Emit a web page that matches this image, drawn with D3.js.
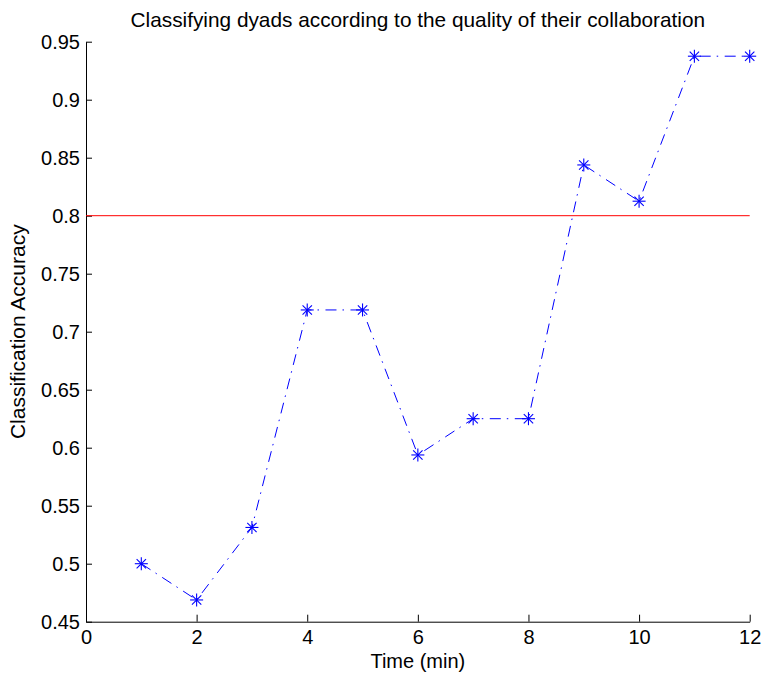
<!DOCTYPE html>
<html>
<head>
<meta charset="utf-8">
<script src="https://cdn.jsdelivr.net/npm/d3@7"></script>
<style>
  body { margin: 0; background: #fff; }
  svg { display: block; font-family: "Liberation Sans", Arial, Helvetica, sans-serif; }
  .axis path, .axis line { stroke: #000; stroke-width: 1; }
  .axis text { font-size: 20px; fill: #000; }
</style>
</head>
<body>
<div id="chart"></div>
<script>
// Chart values
var times = [1, 2, 3, 4, 5, 6, 7, 8, 9, 10, 11, 12];
var accuracy = [0.5, 0.46875, 0.53125, 0.71875, 0.71875, 0.59375, 0.625, 0.625, 0.84375, 0.8125, 0.9375, 0.9375];
var threshold = 0.8;
var xTicks = [0, 2, 4, 6, 8, 10, 12];
var yTicks = [0.45, 0.5, 0.55, 0.6, 0.65, 0.7, 0.75, 0.8, 0.85, 0.9, 0.95];

var svgWidth = 763;
var svgHeight = 673;

var margin = { top: 41.7, bottom: 51.3, left: 86, right: 13.3 };
var width = svgWidth - margin.left - margin.right;
var height = svgHeight - margin.top - margin.bottom;

var svg = d3.select("#chart")
  .append("svg")
  .attr("width", svgWidth)
  .attr("height", svgHeight);

var chartGroup = svg.append("g")
  .attr("transform", `translate(${margin.left}, ${margin.top})`);

var xScale = d3.scaleLinear().domain([0, 12]).range([0, width]);
var yScale = d3.scaleLinear().domain([0.45, 0.95]).range([height, 0]);

// axes, ticks pointing inward like matlab
var bottomAxis = d3.axisBottom(xScale)
  .tickValues(xTicks)
  .tickSizeInner(-7)
  .tickSizeOuter(0)
  .tickPadding(8)
  .tickFormat(d3.format("d"));

var leftAxis = d3.axisLeft(yScale)
  .tickValues(yTicks)
  .tickSizeInner(-6)
  .tickSizeOuter(0)
  .tickPadding(6)
  .tickFormat(d => String(+d.toFixed(2)));

chartGroup.append("g")
  .attr("class", "axis")
  .attr("transform", `translate(0, ${height})`)
  .call(bottomAxis);

chartGroup.append("g")
  .attr("class", "axis")
  .call(leftAxis);

chartGroup.selectAll(".axis text").attr("font-family", null);

// threshold line
chartGroup.append("line")
  .attr("x1", xScale(0))
  .attr("x2", xScale(12))
  .attr("y1", yScale(threshold))
  .attr("y2", yScale(threshold))
  .attr("stroke", "#ff0000")
  .attr("stroke-width", 1);

// dash-dot line
var line = d3.line()
  .x((d, i) => xScale(times[i]))
  .y(d => yScale(d));

chartGroup.append("path")
  .datum(accuracy)
  .attr("d", line)
  .attr("fill", "none")
  .attr("stroke", "#0000ff")
  .attr("stroke-width", 1)
  .attr("stroke-dasharray", "11,6,1.5,6.5");

// asterisk markers
var r = 6.5;
var markers = chartGroup.selectAll(".marker")
  .data(accuracy)
  .enter()
  .append("g")
  .attr("class", "marker")
  .attr("transform", (d, i) => `translate(${xScale(times[i])}, ${yScale(d)})`);

[[-r, 0, r, 0], [0, -r, 0, r], [-r * 0.72, -r * 0.72, r * 0.72, r * 0.72], [-r * 0.72, r * 0.72, r * 0.72, -r * 0.72]]
  .forEach(function(s) {
    markers.append("line")
      .attr("x1", s[0]).attr("y1", s[1])
      .attr("x2", s[2]).attr("y2", s[3])
      .attr("stroke", "#0000ff")
      .attr("stroke-width", 1.1);
  });

// labels
svg.append("text")
  .attr("x", margin.left + width / 2)
  .attr("y", 27)
  .attr("text-anchor", "middle")
  .attr("font-size", "20.8px")
  .text("Classifying dyads according to the quality of their collaboration");

svg.append("text")
  .attr("x", margin.left + width / 2)
  .attr("y", 668)
  .attr("text-anchor", "middle")
  .attr("font-size", "20px")
  .text("Time (min)");

svg.append("text")
  .attr("transform", "rotate(-90)")
  .attr("x", -(margin.top + height / 2))
  .attr("y", 25)
  .attr("text-anchor", "middle")
  .attr("font-size", "21px")
  .text("Classification Accuracy");
</script>
</body>
</html>
